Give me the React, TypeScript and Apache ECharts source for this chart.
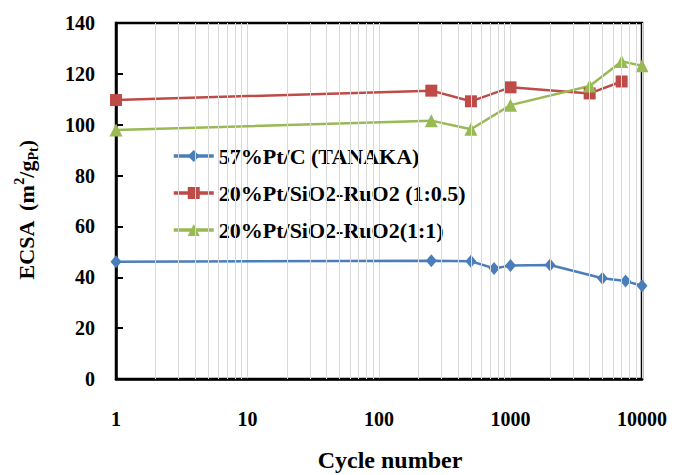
import React, { useEffect, useRef } from "react";
import * as echarts from "echarts";

const seriesNames = ["57%Pt/C (TANAKA)", "20%Pt/SiO2-RuO2 (1:0.5)", "20%Pt/SiO2-RuO2(1:1)"];
const tanakaCycles = [1, 250, 500, 750, 1000, 2000, 5000, 7500, 10000];
const tanakaEcsa = [46.1, 46.5, 46.3, 43.5, 44.6, 44.8, 39.6, 38.5, 36.7];
const ratio05Cycles = [1, 250, 500, 1000, 4000, 7000];
const ratio05Ecsa = [109.7, 113.4, 109.2, 114.7, 112.3, 117.0];
const ratio1Cycles = [1, 250, 500, 1000, 4000, 7000, 10000];
const ratio1Ecsa = [97.9, 101.6, 98.2, 107.7, 115.2, 124.9, 123.2];
const minorGridValues = [2, 3, 4, 5, 6, 7, 8, 9, 20, 30, 40, 50, 60, 70, 80, 90, 200, 300, 400, 500, 600, 700, 800, 900, 2000, 3000, 4000, 5000, 6000, 7000, 8000, 9000];

const FONT = "'Liberation Serif', 'Times New Roman', serif";

export default function App() {
  const ref = useRef<HTMLDivElement>(null);
  useEffect(() => {
    if (!ref.current) return;
    const chart = echarts.init(ref.current, undefined, { renderer: "svg" });
    const zip = (xs: number[], ys: number[]) => xs.map((x, i) => [x, ys[i]]);
    chart.setOption({
      animation: false,
      backgroundColor: "#fff",
      grid: {
        left: 116, right: 33, top: 23, bottom: 96,
        show: true, borderColor: "#000", borderWidth: 2.5, backgroundColor: "transparent",
      },
      legend: {
        data: seriesNames,
        orient: "vertical",
        left: 172,
        top: 145,
        padding: 0,
        itemWidth: 40,
        itemHeight: 15,
        itemGap: 15,
        lineStyle: { width: 3.5 },
        textStyle: { fontFamily: FONT, fontWeight: "bold", fontSize: 22, color: "#000" },
      },
      xAxis: {
        type: "log",
        logBase: 10,
        min: 1,
        max: 10000,
        axisLine: { lineStyle: { color: "#000", width: 2.5 } },
        axisTick: { show: false },
        splitLine: { show: true, lineStyle: { color: "#d9d9d9", width: 1 } },
        axisLabel: {
          fontFamily: FONT, fontWeight: "bold", fontSize: 20, color: "#000", margin: 30,
          formatter: (v: number) => String(Math.round(v)),
        },
      },
      yAxis: {
        type: "value",
        min: 0,
        max: 140,
        interval: 20,
        axisLine: { show: true, lineStyle: { color: "#000", width: 2.5 } },
        axisTick: { show: true, inside: true, length: 7, lineStyle: { color: "#000", width: 2 } },
        splitLine: { show: false },
        axisLabel: { fontFamily: FONT, fontWeight: "bold", fontSize: 20, color: "#000", margin: 21 },
      },
      graphic: [
        {
          type: "text",
          x: 390,
          y: 460,
          style: {
            text: "Cycle number",
            font: `bold 24px ${FONT}`,
            fill: "#000",
            align: "center",
            verticalAlign: "middle",
          },
        },
        {
          type: "text",
          x: 26,
          y: 210,
          rotation: Math.PI / 2,
          style: {
            text: "ECSA  (m{sup|2}/g{sub|Pt})",
            font: `bold 22px ${FONT}`,
            fontFamily: FONT,
            fontWeight: "bold",
            fontSize: 22,
            lineHeight: 28,
            fill: "#000",
            align: "center",
            verticalAlign: "middle",
            rich: {
              sup: { fontFamily: FONT, fontWeight: "bold", fontSize: 14, lineHeight: 14, verticalAlign: "top", fill: "#000" },
              sub: { fontFamily: FONT, fontWeight: "bold", fontSize: 14, lineHeight: 14, verticalAlign: "bottom", fill: "#000" },
            },
          },
        },
      ],
      series: [
        {
          name: "minor-grid",
          type: "line",
          data: [],
          z: 1,
          silent: true,
          markLine: {
            silent: true,
            symbol: ["none", "none"],
            label: { show: false },
            lineStyle: { color: "#d9d9d9", width: 1, type: "solid" },
            data: minorGridValues.map((v) => ({ xAxis: v })),
          },
        },
        {
          name: seriesNames[0],
          type: "line",
          data: zip(tanakaCycles, tanakaEcsa),
          symbol: "diamond",
          symbolSize: [11, 13],
          clip: false,
          z: 3,
          itemStyle: { color: "#4a7ebb" },
          lineStyle: { color: "#4a7ebb", width: 2.5 },
        },
        {
          name: seriesNames[1],
          type: "line",
          data: zip(ratio05Cycles, ratio05Ecsa),
          symbol: "rect",
          symbolSize: 12,
          clip: false,
          z: 3,
          itemStyle: { color: "#be4b48" },
          lineStyle: { color: "#be4b48", width: 2.5 },
        },
        {
          name: seriesNames[2],
          type: "line",
          data: zip(ratio1Cycles, ratio1Ecsa),
          symbol: "triangle",
          symbolSize: 13,
          clip: false,
          z: 3,
          itemStyle: { color: "#98b954" },
          lineStyle: { color: "#98b954", width: 2.5 },
        },
      ],
    });
    return () => chart.dispose();
  }, []);
  return <div ref={ref} style={{ width: 675, height: 475, position: "absolute", left: 0, top: 0 }} />;
}
